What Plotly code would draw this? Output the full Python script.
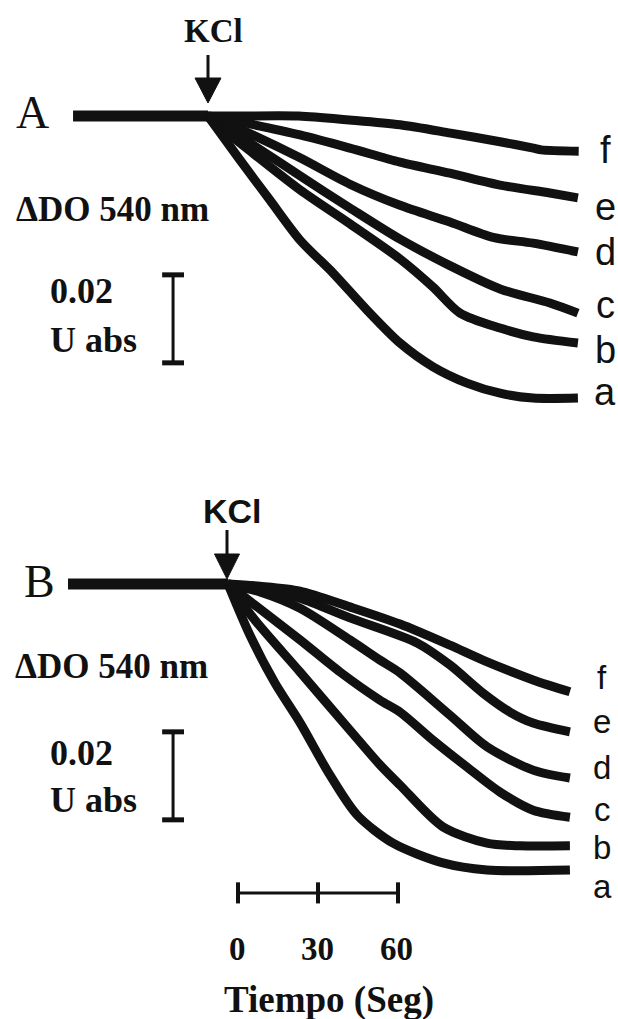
import plotly.graph_objects as go

W, H = 618, 1019

# ---------------- DATA (time in s after KCl addition, ΔDO 540 nm in U abs) -------------
# Panel A
base_A_t = [-50.6, 0]
base_A_od = [0, 0]
a_A_t = [0, 12.0, 23.2, 34.5, 46.9, 59.6, 72.0, 84.4, 97.1, 109.5, 121.9, 138.7]
a_A_od = [0, -0.0100, -0.0191, -0.0282, -0.0357, -0.0441, -0.0516, -0.0570, -0.0607, -0.0630, -0.0641, -0.0641]
b_A_t = [0, 0.7, 15.7, 34.5, 53.2, 72.0, 84.4, 94.5, 109.5, 121.9, 138.7]
b_A_od = [0, -0.0005, -0.0079, -0.0168, -0.0245, -0.0325, -0.0389, -0.0448, -0.0482, -0.0502, -0.0516]
c_A_t = [0, 1.5, 15.7, 34.5, 53.2, 72.0, 90.7, 109.5, 128.2, 138.7]
c_A_od = [0, -0.0005, -0.0061, -0.0136, -0.0209, -0.0280, -0.0340, -0.0393, -0.0425, -0.0448]
d_A_t = [0, 2.6, 15.7, 34.5, 53.2, 72.0, 90.7, 106.9, 121.9, 138.7]
d_A_od = [0, -0.0005, -0.0040, -0.0095, -0.0155, -0.0203, -0.0241, -0.0276, -0.0289, -0.0309]
e_A_t = [0, 2.6, 15.7, 34.5, 53.2, 72.0, 90.7, 109.5, 128.2, 138.7]
e_A_od = [0, -0.0002, -0.0018, -0.0043, -0.0073, -0.0105, -0.0130, -0.0157, -0.0175, -0.0186]
f_A_t = [0, 12, 34, 53, 72, 91, 110, 122, 125, 139]
f_A_od = [0, 0, 0, -0.0009, -0.0020, -0.0039, -0.0059, -0.0073, -0.0077, -0.0080]

# Panel B
base_B_t = [-60, 0]
base_B_od = [0, 0]
a_B_t = [0, 8.2, 17.6, 27.0, 38.2, 48.4, 61.9, 80.6, 97.1, 128.2]
a_B_od = [0, -0.0116, -0.0225, -0.0315, -0.0434, -0.0525, -0.0589, -0.0634, -0.0650, -0.0650]
b_B_t = [0, 10.1, 27.0, 45.7, 57.0, 64.5, 80.6, 97.1, 109.5, 128.2]
b_B_od = [0, -0.0082, -0.0200, -0.0332, -0.0411, -0.0457, -0.0552, -0.0589, -0.0595, -0.0595]
c_B_t = [0, 10.1, 27.0, 42.0, 57.0, 64.5, 76.9, 89.6, 102.0, 114.4, 128.2]
c_B_od = [0, -0.0048, -0.0127, -0.0200, -0.0264, -0.0291, -0.0355, -0.0416, -0.0473, -0.0514, -0.0530]
d_B_t = [0, 12.0, 27.0, 45.7, 57.0, 64.5, 83.2, 97.1, 114.4, 128.2]
d_B_od = [0, -0.0018, -0.0055, -0.0127, -0.0173, -0.0202, -0.0298, -0.0370, -0.0423, -0.0441]
e_B_t = [0, 12.0, 27.0, 45.7, 70.9, 83.2, 95.6, 105.7, 114.4, 128.2]
e_B_od = [0, -0.0011, -0.0032, -0.0077, -0.0134, -0.0184, -0.0248, -0.0291, -0.0316, -0.0336]
f_B_t = [0, 12.0, 27.0, 45.7, 64.5, 83.2, 95.6, 114.4, 128.2]
f_B_od = [0, -0.0005, -0.0016, -0.0052, -0.0091, -0.0139, -0.0173, -0.0218, -0.0245]

curve_labels = ["a", "b", "c", "d", "e", "f"]
scale_abs = 0.02          # U abs
scale_time = [0, 30, 60]  # s

# ---------------- FIGURE -------------------------------------------------------------
INK = "#111111"
SERIF = "Liberation Serif, Times New Roman, serif"
SANS = "Liberation Sans, Arial, sans-serif"
LW = 9

fig = go.Figure()

panelA = [(base_A_t, base_A_od, 11), (a_A_t, a_A_od, LW), (b_A_t, b_A_od, LW), (c_A_t, c_A_od, LW),
          (d_A_t, d_A_od, LW), (e_A_t, e_A_od, LW), (f_A_t, f_A_od, LW)]
panelB = [(base_B_t, base_B_od, 11), (a_B_t, a_B_od, LW), (b_B_t, b_B_od, LW), (c_B_t, c_B_od, LW),
          (d_B_t, d_B_od, LW), (e_B_t, e_B_od, LW), (f_B_t, f_B_od, LW)]

for t, od, w in panelA:
    fig.add_trace(go.Scatter(x=t, y=od, mode="lines", xaxis="x", yaxis="y",
                             line=dict(color=INK, width=w, shape="spline", smoothing=0.8),
                             hoverinfo="skip", showlegend=False))
for t, od, w in panelB:
    fig.add_trace(go.Scatter(x=t, y=od, mode="lines", xaxis="x2", yaxis="y2",
                             line=dict(color=INK, width=w, shape="spline", smoothing=0.8),
                             hoverinfo="skip", showlegend=False))

# pixel -> paper helpers for free text placement
def PX(x):
    return x / W

def PY(y):
    return 1 - y / H

ann = []

def txt(s, x, y, size, family=SERIF, bold=False):
    ann.append(dict(text=("<b>%s</b>" % s) if bold else s, x=PX(x), y=PY(y),
                    xref="paper", yref="paper", showarrow=False,
                    xanchor="center", yanchor="middle",
                    font=dict(family=family, size=size, color=INK)))

# Panel A texts
txt("KCl", 213, 31, 33, SERIF, True)
txt("A", 32, 113, 46)
txt("ΔDO 540 nm", 112, 209, 35, SERIF, True)
txt("0.02", 81, 291, 36, SERIF, True)
txt("U abs", 93, 340, 36, SERIF, True)
for lab, y in zip(curve_labels, [392, 350, 305, 252, 207, 150]):
    txt(lab, 605, y, 38, SANS)

# Panel B texts
txt("KCl", 232, 511, 34, SANS, True)
txt("B", 39, 581, 46)
txt("ΔDO 540 nm", 111, 666, 35, SERIF, True)
txt("0.02", 81, 753, 36, SERIF, True)
txt("U abs", 93, 800, 36, SERIF, True)
for lab, y in zip(curve_labels, [886, 847, 809, 767, 721, 677]):
    txt(lab, 602, y, 33, SANS)

# time scale labels
for v, x in zip(scale_time, [237, 317, 396]):
    txt(str(v), x, 949, 33, SERIF, True)
txt("Tiempo (Seg)", 329, 1000, 37, SERIF, True)

shapes = []

def line(x0, y0, x1, y1, w, xref="paper", yref="paper"):
    shapes.append(dict(type="line", x0=x0, y0=y0, x1=x1, y1=y1, xref=xref, yref=yref,
                       line=dict(color=INK, width=w)))

def arrow(x, y_top, y_tip, head_len, head_w):
    line(PX(x), PY(y_top), PX(x), PY(y_tip - head_len + 2), 3)
    path = "M %f,%f L %f,%f L %f,%f Z" % (PX(x - head_w / 2), PY(y_tip - head_len),
                                          PX(x + head_w / 2), PY(y_tip - head_len),
                                          PX(x), PY(y_tip))
    shapes.append(dict(type="path", path=path, xref="paper", yref="paper",
                       fillcolor=INK, line=dict(color=INK, width=1)))

arrow(208, 55, 103, 25, 26)
arrow(227, 530, 579, 25, 25)

# vertical absorbance scale bars (data units)
def abs_bar(xaxis, yaxis, t_pos, od_bottom, cap_half):
    line(t_pos, od_bottom, t_pos, od_bottom + scale_abs, 3, xaxis, yaxis)
    for yy in (od_bottom, od_bottom + scale_abs):
        line(t_pos - cap_half, yy, t_pos + cap_half, yy, 5, xaxis, yaxis)

abs_bar("x", "y", -13.1, -0.0561, 4.1)
abs_bar("x2", "y2", -20.6, -0.0536, 4.1)

# time scale bar in panel B (data units)
t_off = 3.75
bar_od = -0.0702
line(t_off + scale_time[0], bar_od, t_off + scale_time[-1], bar_od, 3, "x2", "y2")
for v in scale_time:
    line(t_off + v, bar_od - 0.0024, t_off + v, bar_od + 0.0024, 4, "x2", "y2")

PXS = 2.667    # px per second
PYS = 4400.0   # px per U abs
ax_common = dict(visible=False, fixedrange=True, showgrid=False, zeroline=False)

fig.update_layout(
    width=W, height=H,
    margin=dict(l=0, r=0, t=0, b=0, pad=0),
    paper_bgcolor="white", plot_bgcolor="white",
    showlegend=False,
    xaxis=dict(domain=[0, 1], range=[-208 / PXS, (W - 208) / PXS], anchor="y", **ax_common),
    yaxis=dict(domain=[0, 1], range=[(116 - H) / PYS, 116 / PYS], anchor="x", **ax_common),
    xaxis2=dict(domain=[0, 1], range=[-228 / PXS, (W - 228) / PXS], anchor="y2",
                overlaying="x", **ax_common),
    yaxis2=dict(domain=[0, 1], range=[(584 - H) / PYS, 584 / PYS], anchor="x2",
                overlaying="y", **ax_common),
    annotations=ann,
    shapes=shapes,
)

fig.write_html("out.html", config={"displayModeBar": False})
